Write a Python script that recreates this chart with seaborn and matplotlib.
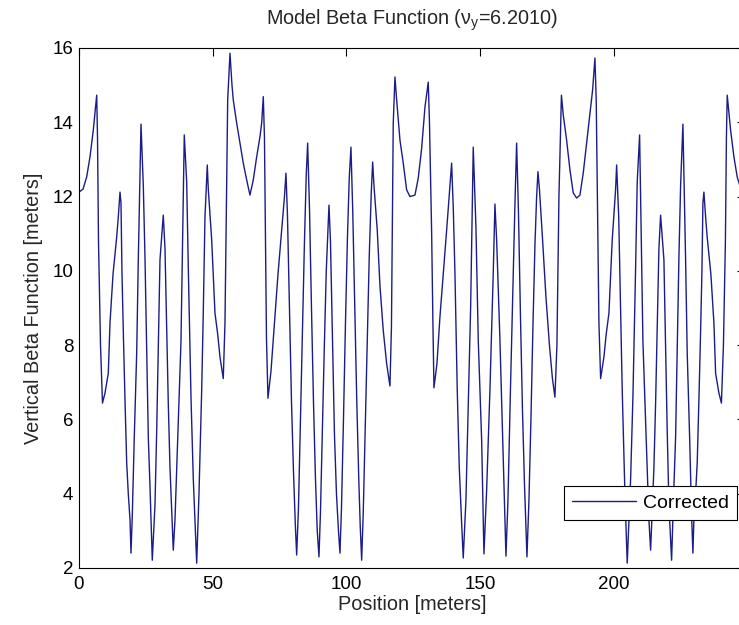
import matplotlib
matplotlib.use("Agg")
import matplotlib.pyplot as plt
import seaborn as sns
import pandas as pd

# ---- data (position in meters, vertical beta in meters) ----
straight1_pos = [0.0, 1.50, 2.88, 4.11, 5.35, 6.62]
straight1_beta = [12.12, 12.2, 12.53, 13.07, 13.79, 14.73]

arc1_pos = [6.92, 7.29, 8.04, 8.78, 9.72, 10.95, 11.59, 12.71, 14.09, 14.69, 15.33,
            15.70, 16.07, 16.64, 17.20, 17.83, 18.43, 19.07, 19.44,
            19.92, 20.67, 21.57, 22.17, 23.18,
            24.04, 24.67, 25.31, 25.91, 26.54, 27.40,
            28.41, 29.05, 29.64, 30.28, 31.51,
            32.15, 32.78, 33.38, 34.02, 35.25,
            35.89, 37.12, 38.13, 38.62, 39.36,
            40.26, 40.86, 41.87, 42.73, 44.00,
            44.86, 45.87, 46.47, 47.10, 47.96,
            48.34, 49.61, 50.20, 50.84, 51.85, 52.71, 53.94,
            54.58, 55.59, 56.45]
arc1_beta = [13.6, 10.8, 8.0, 6.44, 6.71, 7.24, 8.6, 9.9, 10.91, 11.45, 12.12,
             11.83, 9.94, 8.14, 6.52, 4.83, 4.0, 3.3, 2.4,
             3.4, 5.53, 7.79, 10.29, 13.95,
             12.3, 10.37, 7.8, 5.53, 4.2, 2.21,
             3.7, 5.7, 7.9, 10.3, 11.5,
             10.6, 8.49, 6.44, 4.7, 2.48,
             3.3, 5.9, 8.1, 10.3, 13.66,
             12.4, 10.1, 6.6, 4.4, 2.13,
             4.0, 6.79, 8.9, 11.45, 12.85,
             12.2, 10.83, 9.9, 8.86, 8.3, 7.68, 7.1,
             8.6, 14.6, 15.86]

straight2_pos = [57.20, 57.68, 58.95, 60.19, 61.42, 62.69, 63.92, 65.16, 66.43, 67.66, 68.30, 68.90]
straight2_beta = [15.0, 14.6, 13.98, 13.44, 12.9, 12.45, 12.04, 12.45, 13.07, 13.61, 13.98, 14.69]

arc2_pos = [69.34, 69.72, 70.09, 70.65, 71.78, 73.08, 74.39, 75.89, 76.82, 77.38,
            77.94, 78.69, 79.44, 80.19, 80.86, 81.38,
            82.05, 82.80, 83.55, 84.30, 84.97, 85.49,
            86.17, 86.92, 87.66, 88.41, 89.08, 89.72,
            90.28, 90.95, 91.70, 92.45, 93.46,
            94.02, 94.77, 95.51, 96.26, 97.01, 97.57,
            98.13, 98.88, 99.63, 100.37, 101.04, 101.68,
            102.35, 103.10, 103.85, 104.60, 105.16, 105.68,
            106.28, 107.03, 107.78, 108.52, 109.27, 109.79,
            110.28, 111.51, 112.52, 113.75, 115.03, 116.26,
            116.82, 117.49, 118.13]
arc2_beta = [13.6, 10.8, 8.2, 6.57, 7.3, 8.6, 9.9, 11.2, 12.0, 12.63,
             11.5, 9.0, 6.5, 4.6, 3.2, 2.35,
             3.6, 6.0, 8.5, 10.8, 12.6, 13.44,
             11.7, 9.0, 6.5, 4.4, 3.0, 2.3,
             3.5, 5.6, 7.9, 10.0, 11.77,
             10.8, 8.2, 5.6, 4.0, 3.0, 2.4,
             3.6, 6.0, 8.6, 10.9, 12.5, 13.33,
             11.6, 9.0, 6.5, 4.4, 3.1, 2.21,
             3.5, 5.8, 8.2, 10.4, 12.1, 12.93,
             12.3, 11.1, 9.6, 8.4, 7.5, 6.9,
             8.5, 13.98, 15.22]

straight3_pos = [118.77, 120.00, 121.23, 122.50, 123.74, 125.61, 126.84, 128.11, 129.35, 130.58]
straight3_beta = [14.6, 13.52, 12.9, 12.18, 12.0, 12.04, 12.5, 13.3, 14.41, 15.08]

arc3_pos = [131.03, 131.85, 132.34, 132.71, 133.83, 134.95, 136.19, 137.46, 138.69, 139.32,
            139.92, 140.56, 141.42, 142.17, 143.06, 143.66,
            144.67, 145.53, 146.43, 147.03, 147.40,
            148.41, 149.27, 150.54, 151.40,
            152.41, 153.64, 154.88, 155.51,
            156.15, 157.38, 158.50, 159.63,
            160.37, 161.31, 162.24, 162.99, 163.62,
            164.30, 165.05, 165.79, 166.54, 167.48,
            168.22, 168.97, 169.72, 170.47, 171.10, 171.59,
            172.15, 173.27, 174.58, 175.89, 177.01, 177.94,
            178.69, 179.44, 180.37]
arc3_beta = [14.0, 11.02, 8.5, 6.85, 7.5, 8.76, 9.9, 11.1, 12.3, 12.9,
             11.72, 9.94, 6.79, 4.72, 3.21, 2.27,
             3.83, 6.33, 9.03, 11.8, 13.33,
             11.18, 8.14, 5.45, 2.38,
             4.1, 6.79, 9.94, 11.8,
             10.83, 8.14, 5.2, 2.32,
             3.8, 6.8, 9.6, 11.8, 13.44,
             11.6, 8.8, 6.3, 4.3, 2.3,
             3.8, 6.0, 8.5, 10.7, 12.0, 12.67,
             12.2, 10.9, 9.3, 8.0, 7.1, 6.6,
             8.0, 12.0, 14.73]

straight4_pos = [181.05, 182.31, 183.55, 184.78, 186.05, 187.29, 188.52, 189.79, 191.03, 192.03, 192.90]
straight4_beta = [14.2, 13.52, 12.72, 12.1, 11.96, 12.04, 12.63, 13.44, 14.25, 14.87, 15.73]

arc4_pos = [193.38, 194.39, 195.02, 196.26, 197.12, 198.13, 198.77, 199.36, 200.63, 201.01,
            201.79, 202.50, 203.10, 204.11, 204.97,
            206.24, 207.10, 208.11, 208.71, 209.60,
            210.35, 210.84, 211.85, 213.08, 213.72,
            214.95, 215.58, 216.18, 216.82, 217.45,
            218.69, 219.32, 219.92, 220.56, 221.56,
            222.43, 223.06, 223.66, 224.30, 224.93, 225.79,
            226.80, 227.40, 228.30, 229.04, 229.53,
            229.90, 230.54, 231.14, 231.77, 232.33, 232.89, 233.27, 233.64,
            234.28, 234.87, 236.26, 237.38, 238.02, 239.25, 240.19,
            240.94, 241.68, 242.06, 242.36]
arc4_beta = [14.6, 8.6, 7.1, 7.68, 8.3, 8.86, 9.9, 10.83, 12.2, 12.85,
             11.45, 8.9, 6.79, 4.0, 2.13,
             4.4, 6.6, 10.1, 12.4, 13.66,
             10.3, 8.1, 5.9, 3.3, 2.48,
             4.7, 6.44, 8.49, 10.6, 11.5,
             10.3, 7.9, 5.7, 3.7, 2.21,
             4.2, 5.53, 7.8, 10.37, 12.3, 13.95,
             10.29, 7.79, 5.53, 3.4, 2.4,
             3.3, 4.0, 4.83, 6.52, 8.14, 9.94, 11.83, 12.12,
             11.45, 10.91, 9.9, 8.6, 7.24, 6.71, 6.44,
             8.0, 10.8, 13.6, 14.73]

straight5_pos = [243.62, 244.86, 246.09, 247.47, 248.97]
straight5_beta = [13.79, 13.07, 12.53, 12.2, 12.12]

x_ticks = [0, 50, 100, 150, 200]
y_ticks = [2, 4, 6, 8, 10, 12, 14, 16]

position = (straight1_pos + arc1_pos + straight2_pos + arc2_pos + straight3_pos
            + arc3_pos + straight4_pos + arc4_pos + straight5_pos)
beta = (straight1_beta + arc1_beta + straight2_beta + arc2_beta + straight3_beta
        + arc3_beta + straight4_beta + arc4_beta + straight5_beta)

df = pd.DataFrame({"Position [meters]": position,
                   "Vertical Beta Function [meters]": beta,
                   "series": ["Corrected"] * len(position)})

# ---- styling ----
sns.set_style("white")
plt.rcParams["font.family"] = ["Liberation Sans", "DejaVu Sans"]
plt.rcParams["mathtext.fontset"] = "custom"
plt.rcParams["mathtext.rm"] = "Liberation Sans"
plt.rcParams["mathtext.it"] = "Liberation Sans"
FS = 13.5
FS_LAB = 14.3

fig = plt.figure(figsize=(7.39, 6.25), dpi=100)
ax = fig.add_axes([0.1069, 0.0912, 0.9012, 0.832])

sns.lineplot(data=df, x="Position [meters]", y="Vertical Beta Function [meters]",
             hue="series", palette=["#1c1c88"], sort=False, estimator=None,
             linewidth=1.0, ax=ax)

ax.set_xlim(0, 249)
ax.set_ylim(2, 16)
ax.set_xticks(x_ticks)
ax.set_yticks(y_ticks)
ax.tick_params(direction="in", top=True, right=True, length=5.5, width=0.8,
               labelsize=FS, colors="black")
ax.tick_params(axis="x", pad=6)
ax.tick_params(axis="y", pad=4)
for s in ax.spines.values():
    s.set_visible(True)
    s.set_color("black")
    s.set_linewidth(0.8)

ax.set_xlabel("Position [meters]", fontsize=FS_LAB, labelpad=1)
ax.set_ylabel("Vertical Beta Function [meters]", fontsize=FS_LAB, labelpad=7)
ax.set_title(r"Model Beta Function ($\mathregular{\nu_y}$=6.2010)", fontsize=FS_LAB, pad=17)

leg = ax.legend(loc="lower right", bbox_to_anchor=(0.988, 0.0923), borderaxespad=0,
                fontsize=14, frameon=True, fancybox=False, framealpha=1,
                handlelength=3.3, handletextpad=0.35, borderpad=0.42, title=None)
leg.get_frame().set_edgecolor("black")
leg.get_frame().set_linewidth(0.8)
for t in leg.get_texts():
    t.set_color("black")

fig.savefig("out.png", dpi=100, facecolor="white")
